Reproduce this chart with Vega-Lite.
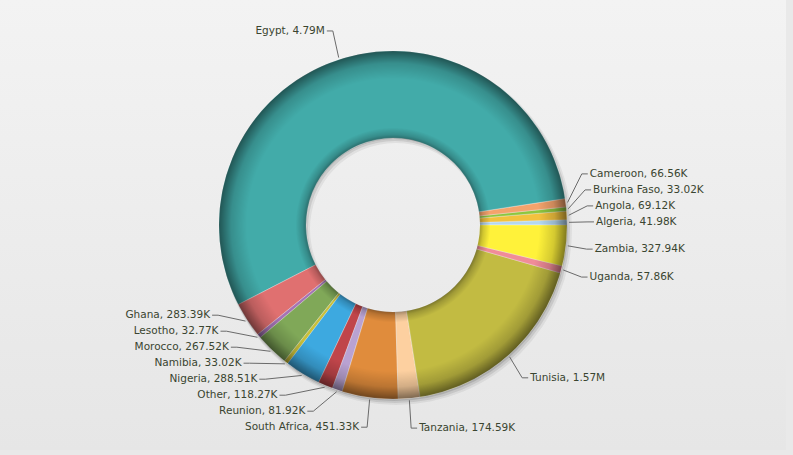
{
  "$schema": "https://vega.github.io/schema/vega-lite/v6.json",
  "width": 793,
  "height": 455,
  "autosize": {"type": "fit", "contains": "padding"},
  "padding": {"left": 0, "top": 0, "right": 7, "bottom": 5},
  "background": "#e9e9e9",
  "config": {
    "view": {"stroke": null, "fill": {"gradient": "linear", "x1": 0, "y1": 0, "x2": 0, "y2": 1, "stops": [{"offset": 0, "color": "#f3f3f3"}, {"offset": 1, "color": "#e6e6e6"}]}}
  },
  "data": {
    "values": [
      {"country": "Algeria", "value": 41980},
      {"country": "Angola", "value": 69120},
      {"country": "Burkina Faso", "value": 33020},
      {"country": "Cameroon", "value": 66560},
      {"country": "Egypt", "value": 4790000},
      {"country": "Ghana", "value": 283390},
      {"country": "Lesotho", "value": 32770},
      {"country": "Morocco", "value": 267520},
      {"country": "Namibia", "value": 33020},
      {"country": "Nigeria", "value": 288510},
      {"country": "Other", "value": 118270},
      {"country": "Reunion", "value": 81920},
      {"country": "South Africa", "value": 451330},
      {"country": "Tanzania", "value": 174590},
      {"country": "Tunisia", "value": 1570000},
      {"country": "Uganda", "value": 57860},
      {"country": "Zambia", "value": 327940}
    ]
  },
  "transform": [
    {"joinaggregate": [{"op": "sum", "field": "value", "as": "total"}]},
    {"window": [{"op": "sum", "field": "value", "as": "cum"}], "sort": [{"field": "country", "order": "descending"}], "frame": [null, 0]},
    {"calculate": "PI/2 + 2*PI*(datum.cum - datum.value/2)/datum.total", "as": "mid"},
    {"calculate": "sin(datum.mid) > 0 ? 1 : -1", "as": "side"},
    {"calculate": "204*cos(datum.mid)", "as": "ly0"},
    {"window": [{"op": "row_number", "as": "k"}], "groupby": ["side"], "sort": [{"field": "ly0", "order": "ascending"}]},
    {"calculate": "datum.ly0 - 16*datum.k", "as": "t"},
    {"window": [{"op": "max", "field": "t", "as": "tmax"}], "groupby": ["side"], "sort": [{"field": "ly0", "order": "ascending"}], "frame": [null, 0]},
    {"calculate": "datum.tmax + 16*datum.k", "as": "ly"},
    {"calculate": "datum.side*195*sqrt(max(0, 1 - pow(datum.ly/204, 2)))", "as": "lx"},
    {"calculate": "176*sin(datum.mid)", "as": "ex"},
    {"calculate": "176*cos(datum.mid)", "as": "ey"},
    {"calculate": "datum.lx + 6*datum.side", "as": "sx"},
    {"calculate": "datum.lx + 8*datum.side", "as": "tx"},
    {"calculate": "datum.country + ', ' + (datum.value >= 1000000 ? format(datum.value/1000000, '.2f') + 'M' : format(datum.value/1000, '.2f') + 'K')", "as": "label"}
  ],
  "layer": [
    {
      "transform": [{"filter": {"field": "country", "equal": "Egypt"}}],
      "mark": {"type": "arc", "theta": 0, "theta2": 6.2832, "radius": 176, "radius2": 86, "xOffset": 3, "yOffset": 4, "fill": "#000000", "opacity": 0.06},
      "encoding": {}
    },
    {
      "transform": [{"filter": {"field": "country", "equal": "Egypt"}}],
      "mark": {"type": "arc", "theta": 0, "theta2": 6.2832, "radius": 175, "radius2": 87, "xOffset": 2, "yOffset": 3, "fill": "#000000", "opacity": 0.09},
      "encoding": {}
    },
    {
      "transform": [{"filter": {"field": "country", "equal": "Egypt"}}],
      "mark": {"type": "arc", "theta": 0, "theta2": 6.2832, "radius": 174, "radius2": 88, "xOffset": 1, "yOffset": 2, "fill": "#000000", "opacity": 0.12},
      "encoding": {}
    },
    {
      "mark": {"type": "arc", "radius": 174, "radius2": 87, "stroke": "#ffffff", "strokeWidth": 0.6, "strokeOpacity": 0.5},
      "encoding": {
        "theta": {"field": "value", "type": "quantitative", "stack": true, "scale": {"range": [1.5708, 7.854]}},
        "order": {"field": "country", "type": "nominal", "sort": "descending"},
        "color": {
          "field": "country", "type": "nominal", "legend": null,
          "scale": {
            "domain": ["Algeria", "Angola", "Burkina Faso", "Cameroon", "Egypt", "Ghana", "Lesotho", "Morocco", "Namibia", "Nigeria", "Other", "Reunion", "South Africa", "Tanzania", "Tunisia", "Uganda", "Zambia"],
            "range": ["#b4d8f0", "#f2c23e", "#8dc63f", "#f4a36c", "#42aba9", "#e07070", "#a573b5", "#80a858", "#c8c03a", "#3da9e0", "#c0454a", "#b9a2d2", "#e08c3c", "#fdd0a0", "#c2bb42", "#f08c98", "#fff23a"]
          }
        }
      }
    },
    {
      "transform": [{"filter": {"field": "country", "equal": "Egypt"}}],
      "mark": {
        "type": "arc", "theta": 0, "theta2": 6.2832, "radius": 174, "radius2": 87,
        "fill": {"gradient": "radial", "x1": 0.5, "y1": 0.5, "r1": 0, "x2": 0.5, "y2": 0.5, "r2": 0.5,
          "stops": [
            {"offset": 0.5, "color": "rgba(0,0,0,0.35)"},
            {"offset": 0.52, "color": "rgba(0,0,0,0.18)"},
            {"offset": 0.56, "color": "rgba(0,0,0,0)"},
            {"offset": 0.84, "color": "rgba(0,0,0,0)"},
            {"offset": 0.93, "color": "rgba(0,0,0,0.17)"},
            {"offset": 1, "color": "rgba(0,0,0,0.5)"}
          ]}
      },
      "encoding": {}
    },
    {
      "mark": {"type": "rule", "color": "#6a6a6a", "strokeWidth": 1},
      "encoding": {
        "x": {"field": "ex", "type": "quantitative", "axis": null, "scale": {"domain": [-393, 393], "nice": false, "zero": false}},
        "y": {"field": "ey", "type": "quantitative", "axis": null, "scale": {"domain": [-225, 225], "nice": false, "zero": false}},
        "x2": {"field": "lx"},
        "y2": {"field": "ly"}
      }
    },
    {
      "mark": {"type": "rule", "color": "#6a6a6a", "strokeWidth": 1},
      "encoding": {
        "x": {"field": "lx", "type": "quantitative"},
        "x2": {"field": "sx"},
        "y": {"field": "ly", "type": "quantitative"}
      }
    },
    {
      "mark": {"type": "text", "font": "DejaVu Sans", "fontSize": 10.5, "color": "#3a4530", "baseline": "middle", "align": {"expr": "datum.side > 0 ? 'left' : 'right'"}},
      "encoding": {
        "x": {"field": "tx", "type": "quantitative"},
        "y": {"field": "ly", "type": "quantitative"},
        "text": {"field": "label", "type": "nominal"}
      }
    }
  ]
}
